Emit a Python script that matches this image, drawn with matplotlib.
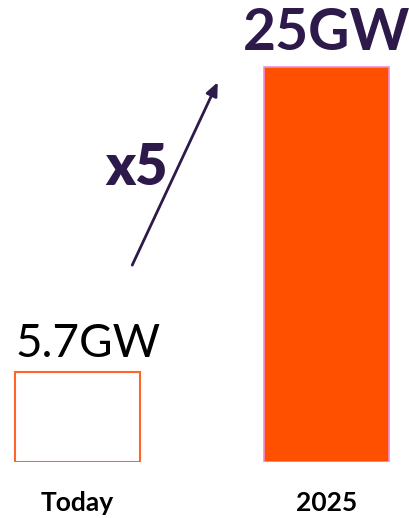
import matplotlib
matplotlib.use("Agg")
import matplotlib.pyplot as plt

categories = ["Today", "2025"]
values = [5.7, 25]
value_labels = ["5.7GW", "25GW"]
multiplier_label = "x5"

plt.rcParams['font.family'] = ['Lato', 'DejaVu Sans']
DARK = "#2D1A4A"

fig = plt.figure(figsize=(4.10, 5.18), dpi=100)
ax = fig.add_axes([0, 56/518, 1, 462/518])
ax.set_xlim(-77.5/249, (410-77.5)/249)
ax.set_ylim(0, 462/15.8)

x = list(range(len(categories)))
ax.bar(x[0], values[0], width=0.502, color="white", edgecolor="#FF6428", linewidth=1.5)
ax.bar(x[1], values[1], width=0.502, color="#FF5000", edgecolor="#F08CD8", linewidth=1.2)

# value labels
ax.annotate(value_labels[0], xy=(x[0] - 0.251, values[0]), xytext=(0, 11), textcoords="offset points",
            ha="left", va="baseline", fontsize=33, color="black")
ax.annotate(value_labels[1], xy=(x[1], values[1]), xytext=(0, 12), textcoords="offset points",
            ha="center", va="baseline", fontsize=41, fontweight="bold", color=DARK)

# arrow
ax.annotate("", xy=(0.568, 24.2), xytext=(0.215, 12.3),
            arrowprops=dict(arrowstyle="-|>,head_length=0.8,head_width=0.35", color=DARK, lw=2))
ax.text(0.235, 18.6, multiplier_label, ha="center", va="center", fontsize=40, fontweight="heavy", color=DARK)

for xi, c in zip(x, categories):
    ax.annotate(c, xy=(xi, 0), xytext=(0, -35), textcoords="offset points",
                ha="center", va="baseline", fontsize=19, fontweight="bold", color="black")

ax.axis("off")
fig.savefig("out.png", dpi=100)
